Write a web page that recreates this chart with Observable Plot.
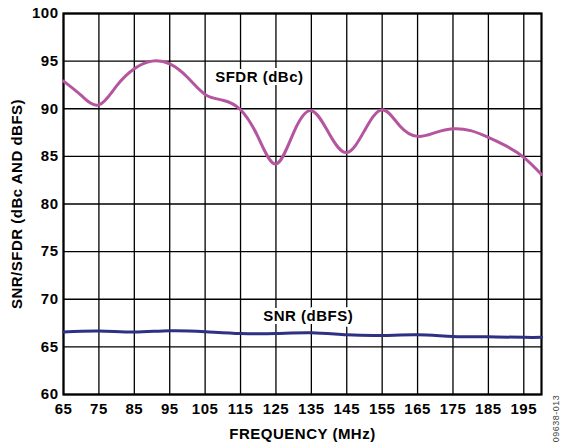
<!DOCTYPE html>
<html>
<head>
<meta charset="utf-8">
<script src="https://cdn.jsdelivr.net/npm/d3@7"></script>
<script src="https://cdn.jsdelivr.net/npm/@observablehq/plot@0.6"></script>
<style>
  html, body { margin: 0; padding: 0; background: white; }
  svg text { letter-spacing: 0.5px; }
  svg text.code { letter-spacing: 0; }
</style>
</head>
<body>
<div id="chart"></div>
<script>
const xTicks = [65, 75, 85, 95, 105, 115, 125, 135, 145, 155, 165, 175, 185, 195];
const yTicks = [60, 65, 70, 75, 80, 85, 90, 95, 100];

const sfdrFreq = [65, 70, 75, 80, 85, 90, 95, 100, 105, 110, 115, 120, 125, 130, 135, 140, 145, 150, 155, 160, 165, 170, 175, 180, 185, 190, 195, 200];
const sfdrVal  = [92.9, 91.4, 90.4, 92.4, 94.2, 95.0, 94.7, 93.3, 91.5, 90.9, 89.9, 87.0, 84.2, 87.5, 89.8, 87.4, 85.4, 87.7, 89.9, 88.2, 87.1, 87.5, 87.9, 87.7, 87.0, 86.1, 84.9, 83.1];

const snrFreq = [65, 75, 85, 95, 105, 115, 125, 135, 145, 155, 165, 175, 185, 195, 200];
const snrVal  = [66.56, 66.67, 66.56, 66.7, 66.6, 66.4, 66.4, 66.48, 66.27, 66.2, 66.27, 66.1, 66.05, 66.0, 66.0];

const labelText = ["SFDR (dBc)", "SNR (dBFS)"];
const labelX = [120.3, 134.1];
const labelY = [93.3, 68.2];

const sfdr = sfdrFreq.map((f, i) => ({f, v: sfdrVal[i]}));
const snr = snrFreq.map((f, i) => ({f, v: snrVal[i]}));
const labels = labelText.map((t, i) => ({t, x: labelX[i], y: labelY[i]}));

const chart = Plot.plot({
  width: 564,
  height: 446,
  marginLeft: 63,
  marginRight: 23,
  marginTop: 13,
  marginBottom: 52,
  style: {
    fontFamily: "'Liberation Sans', Arial, sans-serif",
    fontWeight: "bold",
    fontSize: "15px",
    background: "white",
    color: "black"
  },
  x: {domain: [65, 200], label: null},
  y: {domain: [60, 100], label: null},
  marks: [
    Plot.gridX(xTicks, {stroke: "black", strokeOpacity: 1, strokeWidth: 1.3}),
    Plot.gridY(yTicks, {stroke: "black", strokeOpacity: 1, strokeWidth: 1.3}),
    Plot.axisX(xTicks, {tickSize: 0, tickPadding: 9, label: null, tickFormat: d => String(d), fontSize: 15, fontWeight: "bold"}),
    Plot.axisY(yTicks, {tickSize: 0, tickPadding: 5, label: null, tickFormat: d => String(d), fontSize: 15, fontWeight: "bold"}),
    Plot.frame({stroke: "black", strokeWidth: 2.2}),
    Plot.line(sfdr, {x: "f", y: "v", stroke: "#b5549f", strokeWidth: 3, curve: "natural"}),
    Plot.line(snr, {x: "f", y: "v", stroke: "#2e3083", strokeWidth: 3, curve: "natural"}),
    Plot.text(labels, {x: "x", y: "y", text: "t", fill: "black", stroke: "white", strokeWidth: 6, fontSize: 15, fontWeight: "bold"}),
    Plot.text(["SNR/SFDR (dBc AND dBFS)"], {frameAnchor: "left", rotate: -90, dx: -46, textAnchor: "middle", lineAnchor: "middle", fontSize: 15, fontWeight: "bold", fill: "black"}),
    Plot.text(["FREQUENCY (MHz)"], {frameAnchor: "bottom", dy: 40, lineAnchor: "middle", fontSize: 15, fontWeight: "bold", fill: "black"}),
    Plot.text(["09638-013"], {frameAnchor: "bottom-right", rotate: -90, dx: 15, dy: 24, textAnchor: "middle", lineAnchor: "middle", fontSize: 9, fontWeight: "normal", fill: "#444", className: "code"})
  ]
});
document.getElementById("chart").appendChild(chart);
</script>
</body>
</html>
